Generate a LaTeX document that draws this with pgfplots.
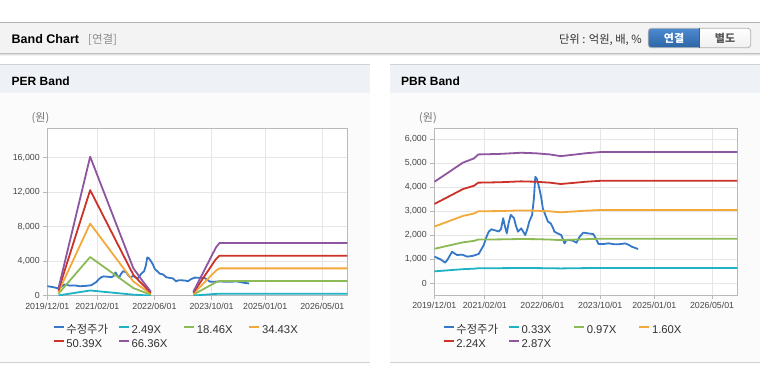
\documentclass[border=0pt]{standalone}
\usepackage{fontspec}
\setmainfont{Liberation Sans}
\newfontfamily\kr{Noto Sans CJK KR}
\usepackage{pgfplots}
\usepackage{pgfplotstable}
\pgfplotsset{compat=1.18}

\definecolor{cPrice}{RGB}{54,120,200}
\definecolor{cTeal}{RGB}{30,178,196}
\definecolor{cGreen}{RGB}{140,186,84}
\definecolor{cOrange}{RGB}{243,168,58}
\definecolor{cRed}{RGB}{204,50,40}
\definecolor{cPurple}{RGB}{143,86,160}
\definecolor{gridc}{RGB}{230,230,230}
\definecolor{framec}{RGB}{185,185,185}
\definecolor{labc}{RGB}{70,70,70}
\definecolor{legc}{RGB}{50,50,50}
\definecolor{hdrbg}{RGB}{243,243,243}
\definecolor{panhdr}{RGB}{238,241,246}
\definecolor{panbody}{RGB}{251,251,251}
\definecolor{btnbluetop}{RGB}{78,138,208}
\definecolor{btnbluebot}{RGB}{43,101,165}

% month index since 2019/12, adjusted price (won)
\pgfplotstableread{
m v
0 1100
0.8 1050
1.8 980
3.0 850
3.6 960
4.9 1300
6.3 1170
7.8 1180
9.1 1100
10.6 1130
12.3 1210
13.7 1580
14.4 1900
15.1 2140
15.8 2240
16.5 2210
17.9 2150
18.5 2250
19.1 2700
19.6 2350
20.1 2070
20.6 2500
21.2 2840
22.1 2700
22.6 2400
23.2 2140
24.1 2280
25.2 2000
25.8 2250
26.3 2550
27.1 2830
27.6 3500
28.0 4430
28.4 4350
28.7 4200
29.1 3950
29.6 3600
30.1 3100
30.5 2950
31.5 2560
32.3 2480
32.9 2300
33.3 2140
34.3 2060
35.2 2000
35.6 1850
36.1 1650
36.5 1760
37.1 1800
37.8 1780
38.5 1760
39.4 1680
40.3 1930
41.3 2100
42.6 2070
44.1 2040
45.0 1790
45.5 1630
46.9 1625
48.3 1655
49.7 1620
51.3 1620
52.9 1650
53.8 1600
54.8 1510
56.5 1420
}\price

% PER bands: 2.49X 18.46X 34.43X 50.39X 66.36X
\pgfplotstableread{
m a b c d e
3.1 29.9 221.5 413.2 604.7 796.3
12.0 604.6 4482.1 8359.6 12234.7 16112.2
24.1 119.0 882.4 1645.8 2408.6 3172.0
27.0 57.3 424.6 791.9 1159.0 1526.3
29.0 17.4 129.2 241.0 352.7 464.5
35.0 nan nan nan nan nan
40.9 17.4 129.2 241.0 352.7 464.5
47.2 209.2 1550.6 2892.1 4232.8 5574.2
48.2 229.1 1698.3 3167.6 4635.9 6105.1
84.0 229.1 1698.3 3167.6 4635.9 6105.1
}\perbands

% PBR bands: 0.33X 0.97X 1.60X 2.24X 2.87X
\pgfplotstableread{
m a b c d e
0 485.1 1425.9 2352.0 3292.8 4218.9
2 508.2 1493.8 2464.0 3449.6 4419.8
4 531.3 1561.7 2576.0 3606.4 4620.7
6 554.4 1629.6 2688.0 3763.2 4821.6
8 577.5 1697.5 2800.0 3920.0 5022.5
11 597.3 1755.7 2896.0 4054.4 5194.7
12.2 616.4 1812.0 2988.8 4184.3 5361.2
18 618.8 1818.8 3000.0 4200.0 5381.3
24 624.4 1835.2 3027.2 4238.1 5430.0
28 622.1 1828.5 3016.0 4222.4 5410.0
32 616.4 1812.0 2988.8 4184.3 5361.2
35 608.2 1787.7 2948.8 4128.3 5289.4
38 613.8 1804.2 2976.0 4166.4 5338.2
42 622.1 1828.5 3016.0 4222.4 5410.0
46 627.7 1844.9 3043.2 4260.5 5458.7
84 627.7 1844.9 3043.2 4260.5 5458.7
}\pbrbands

\pgfplotsset{
  bandaxis/.style={
    scale only axis,
    xmin=0, xmax=84,
    xtick={0,14,30,46,61,77},
    xticklabels={2019/12/01,2021/02/01,2022/06/01,2023/10/01,2025/01/01,2026/05/01},
    grid=major,
    major grid style={draw=gridc, line width=0.7pt},
    axis line style={draw=framec, line width=0.8pt},
    tick style={draw=framec, line width=0.8pt},
    tick align=outside,
    tick pos=left,
    major tick length=4pt,
    x tick label style={font=\fontsize{8.8}{10}\selectfont, text=labc},
    y tick label style={font=\fontsize{8.8}{10}\selectfont, text=labc},
    scaled y ticks=false,
    /pgf/number format/assume math mode=true,
    /pgf/number format/1000 sep={,},
    axis background/.style={fill=white},
    no markers,
    unbounded coords=jump,
    every axis plot/.append style={line width=1.8pt, line join=round},
    legend columns=4,
    legend image code/.code={\draw[##1, line width=2.2pt, line cap=butt] (0pt,3.6pt) -- (10pt,3.6pt);},
    legend style={at={(0,0)}, anchor=north west, draw=none, fill=none,
      inner sep=0pt, outer sep=0pt, /tikz/column sep=0pt, /tikz/row sep=0pt,
      nodes={inner sep=1.5pt, text height=8pt, text depth=2.5pt,
        font=\fontsize{11.3}{13}\selectfont, text=legc}},
  }
}

\newcommand{\legbox}[1]{\makebox[50pt][l]{#1}}

\begin{document}
\begin{tikzpicture}[x=1pt,y=1pt]
\useasboundingbox (0,0) rectangle (760,-364);
\fill[white] (0,0) rectangle (760,-364);

% ---- header bar
\fill[hdrbg] (0,-22.5) rectangle (760,-53);
\draw[black!30, line width=0.8pt] (0,-22.5) -- (760,-22.5);
\draw[black!25, line width=0.8pt] (0,-53) -- (760,-53);
\draw[black!12, line width=1pt] (0,-54.2) -- (760,-54.2);
\draw[black!5, line width=1pt] (0,-55.3) -- (760,-55.3);
\node[anchor=base west, inner sep=0pt] at (11.5,-43) {\fontsize{12.5}{14}\selectfont\bfseries Band Chart};
\node[anchor=base west, inner sep=0pt, text=black!45] at (88,-43) {\kr\fontsize{11.5}{14}\selectfont [연결]};
\node[anchor=base east, inner sep=0pt, text=black!80] at (642,-43) {\kr\fontsize{11.3}{14}\selectfont 단위 : 억원, 배, \%};

% buttons
\begin{scope}
  \clip[rounded corners=3pt] (648.3,-28.3) rectangle (750.7,-47.7);
  \shade[top color=btnbluetop, bottom color=btnbluebot] (648.3,-28.3) rectangle (699.3,-47.7);
  \shade[top color=white, bottom color=black!6] (699.3,-28.3) rectangle (750.7,-47.7);
\end{scope}
\draw[black!30, line width=0.8pt, rounded corners=3pt] (648.3,-28.3) rectangle (750.7,-47.7);
\draw[btnbluebot, line width=0.8pt] (699.3,-28.3) -- (699.3,-47.7);
\node[text=white, inner sep=0pt] at (674,-38.2) {\kr\fontsize{11}{13}\selectfont\bfseries 연결};
\node[text=black!65, inner sep=0pt] at (725,-38.2) {\kr\fontsize{11}{13}\selectfont\bfseries 별도};

% ---- panels
\fill[panhdr] (0,-64) rectangle (370,-93);
\fill[panbody] (0,-93) rectangle (370,-362);
\draw[black!18, line width=0.8pt] (0,-64) -- (370,-64);
\draw[black!18, line width=1pt] (0,-362.2) -- (370,-362.2);
\fill[panhdr] (390,-64) rectangle (760,-93);
\fill[panbody] (390,-93) rectangle (760,-362);
\draw[black!18, line width=0.8pt] (390,-64) -- (760,-64);
\draw[black!18, line width=1pt] (390,-362.2) -- (760,-362.2);

\node[anchor=base west, inner sep=0pt] at (11.5,-85.3) {\fontsize{12}{14}\selectfont\bfseries PER Band};
\node[anchor=base west, inner sep=0pt] at (401,-85.3) {\fontsize{12}{14}\selectfont\bfseries PBR Band};
\node[anchor=west, inner sep=0pt, text=black!55] at (31.5,-118) {\kr\fontsize{11}{13}\selectfont (원)};
\node[anchor=west, inner sep=0pt, text=black!55] at (419,-118) {\kr\fontsize{11}{13}\selectfont (원)};

% ---- PER Band
\begin{axis}[bandaxis,
  at={(47.3pt,-295.7pt)}, anchor=south west,
  width=300pt, height=167.4pt,
  ymin=0, ymax=19400,
  ytick={0,4000,8000,12000,16000},
  legend style={xshift=5.4pt, yshift=-28.5pt},
]
\addplot[cPrice] table[x=m, y=v] {\price};
\addplot[cTeal] table[x=m, y=a] {\perbands};
\addplot[cGreen] table[x=m, y=b] {\perbands};
\addplot[cOrange] table[x=m, y=c] {\perbands};
\addplot[cRed] table[x=m, y=d] {\perbands};
\addplot[cPurple] table[x=m, y=e] {\perbands};
\legend{\legbox{\kr 수정주가},\legbox{2.49X},\legbox{18.46X},\legbox{34.43X},\legbox{50.39X},\legbox{66.36X}}
\end{axis}

% ---- PBR Band
\begin{axis}[bandaxis,
  at={(434.3pt,-295pt)}, anchor=south west,
  width=303pt, height=166.7pt,
  ymin=-500, ymax=6450,
  ytick={0,1000,2000,3000,4000,5000,6000},
  legend style={xshift=8.4pt, yshift=-29.2pt},
]
\addplot[cPrice] table[x=m, y=v] {\price};
\addplot[cTeal] table[x=m, y=a] {\pbrbands};
\addplot[cGreen] table[x=m, y=b] {\pbrbands};
\addplot[cOrange] table[x=m, y=c] {\pbrbands};
\addplot[cRed] table[x=m, y=d] {\pbrbands};
\addplot[cPurple] table[x=m, y=e] {\pbrbands};
\legend{\legbox{\kr 수정주가},\legbox{0.33X},\legbox{0.97X},\legbox{1.60X},\legbox{2.24X},\legbox{2.87X}}
\end{axis}
\end{tikzpicture}
\end{document}
